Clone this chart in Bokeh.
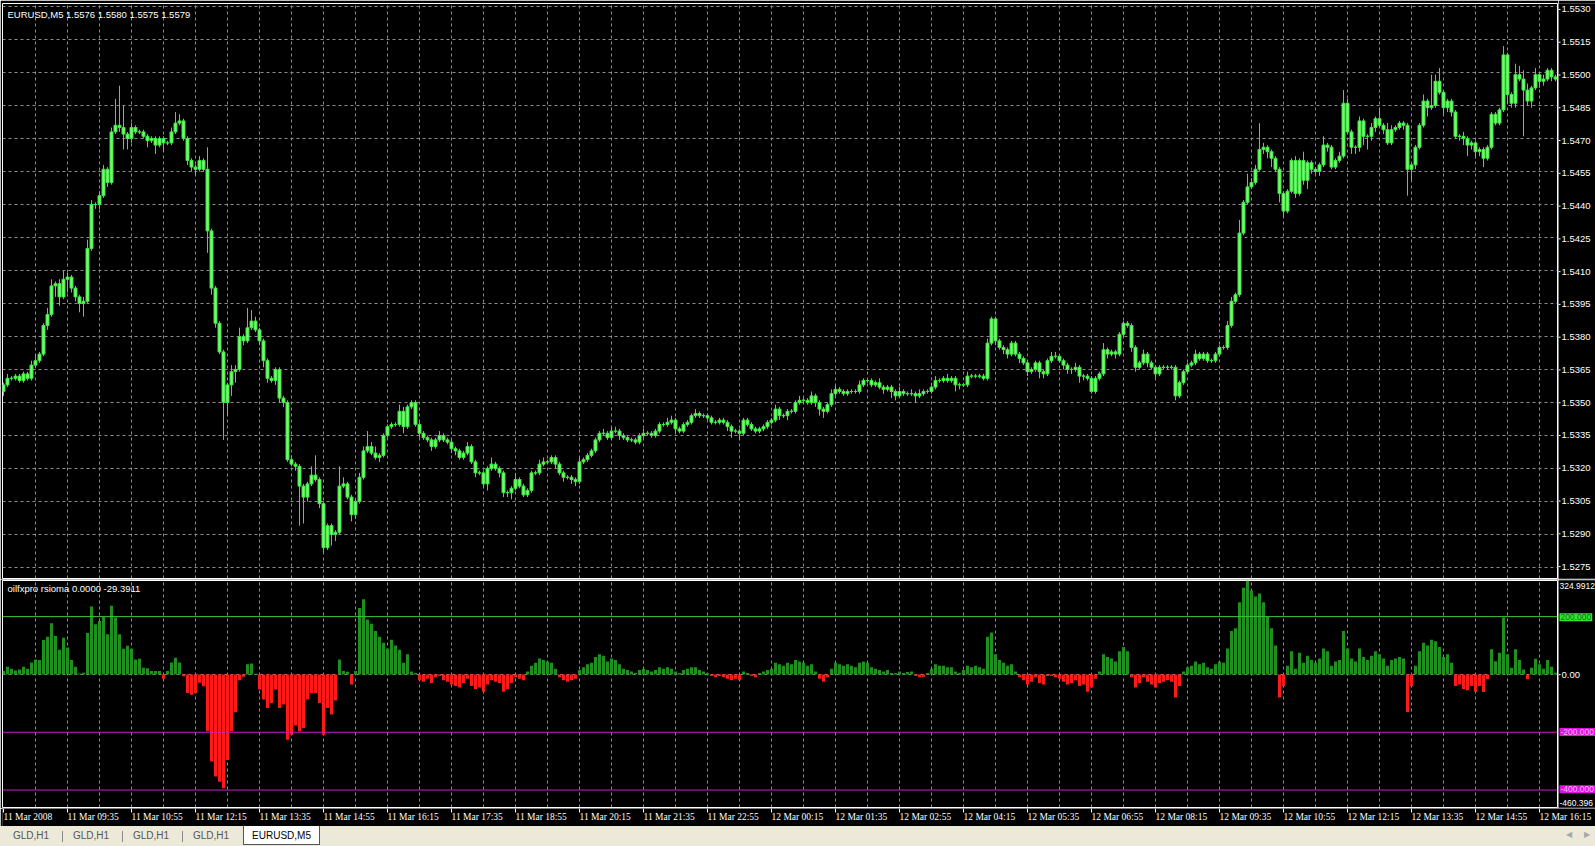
from bokeh.plotting import figure
from bokeh.models import (Range1d, FixedTicker, Span, Label, ColumnDataSource, Div)
from bokeh.layouts import column, row
from bokeh.embed import file_html
from bokeh.resources import INLINE
from bokeh.core.properties import value

# ---------------- data ----------------
symbol_title = "EURUSD,M5  1.5576 1.5580 1.5575 1.5579"
indicator_title = "oilfxpro rsioma 0.0000 -29.3911"
first_open = 1.5355

close = [
    1.5358, 1.5361, 1.5361, 1.5362, 1.5360, 1.5363, 1.5361, 1.5367, 1.5369, 1.5372,
    1.5385, 1.5390, 1.5403, 1.5404, 1.5398, 1.5406, 1.5407, 1.5402, 1.5398, 1.5395,
    1.5396, 1.5420, 1.5440, 1.5440, 1.5444, 1.5456, 1.5450, 1.5473, 1.5476, 1.5475,
    1.5472, 1.5470, 1.5475, 1.5473, 1.5473, 1.5471, 1.5469, 1.5470, 1.5467, 1.5470,
    1.5468, 1.5468, 1.5473, 1.5477, 1.5478, 1.5470, 1.5460, 1.5457, 1.5456, 1.5460,
    1.5456, 1.5428, 1.5402, 1.5386, 1.5373, 1.5350, 1.5358, 1.5364, 1.5365, 1.5380,
    1.5378, 1.5384, 1.5387, 1.5383, 1.5378, 1.5369, 1.5361, 1.5360, 1.5365, 1.5352,
    1.5350, 1.5324, 1.5322, 1.5321, 1.5312, 1.5307, 1.5313, 1.5317, 1.5315, 1.5304,
    1.5284, 1.5294, 1.5290, 1.5291, 1.5312, 1.5313, 1.5307, 1.5299, 1.5305, 1.5316,
    1.5328, 1.5330, 1.5327, 1.5325, 1.5326, 1.5335, 1.5339, 1.5340, 1.5340, 1.5346,
    1.5339, 1.5348, 1.5350, 1.5340, 1.5336, 1.5334, 1.5333, 1.5330, 1.5333, 1.5335,
    1.5333, 1.5332, 1.5329, 1.5328, 1.5325, 1.5327, 1.5330, 1.5323, 1.5318, 1.5318,
    1.5313, 1.5320, 1.5322, 1.5320, 1.5318, 1.5309, 1.5309, 1.5311, 1.5315, 1.5312,
    1.5308, 1.5310, 1.5318, 1.5318, 1.5322, 1.5323, 1.5323, 1.5325, 1.5322, 1.5318,
    1.5316, 1.5316, 1.5315, 1.5314, 1.5323, 1.5324, 1.5326, 1.5328, 1.5333, 1.5336,
    1.5336, 1.5334, 1.5337, 1.5337, 1.5335, 1.5334, 1.5333, 1.5333, 1.5332, 1.5335,
    1.5336, 1.5336, 1.5335, 1.5337, 1.5340, 1.5340, 1.5341, 1.5342, 1.5338, 1.5337,
    1.5340, 1.5341, 1.5344, 1.5345, 1.5344, 1.5344, 1.5343, 1.5341, 1.5341, 1.5342,
    1.5341, 1.5339, 1.5337, 1.5337, 1.5336, 1.5342, 1.5340, 1.5338, 1.5337, 1.5338,
    1.5339, 1.5341, 1.5342, 1.5347, 1.5344, 1.5344, 1.5346, 1.5346, 1.5350, 1.5351,
    1.5351, 1.5350, 1.5353, 1.5350, 1.5347, 1.5346, 1.5349, 1.5354, 1.5356, 1.5355,
    1.5354, 1.5355, 1.5355, 1.5355, 1.5358, 1.5360, 1.5360, 1.5358, 1.5359, 1.5357,
    1.5356, 1.5357, 1.5355, 1.5353, 1.5355, 1.5354, 1.5354, 1.5354, 1.5353, 1.5354,
    1.5355, 1.5355, 1.5357, 1.5360, 1.5360, 1.5361, 1.5360, 1.5361, 1.5358, 1.5358,
    1.5358, 1.5362, 1.5362, 1.5362, 1.5362, 1.5361, 1.5377, 1.5388, 1.5378, 1.5375,
    1.5374, 1.5372, 1.5377, 1.5372, 1.5370, 1.5368, 1.5364, 1.5365, 1.5368, 1.5364,
    1.5363, 1.5369, 1.5371, 1.5371, 1.5369, 1.5367, 1.5365, 1.5365, 1.5366, 1.5362,
    1.5362, 1.5361, 1.5355, 1.5361, 1.5363, 1.5374, 1.5372, 1.5373, 1.5372, 1.5381,
    1.5386, 1.5385, 1.5375, 1.5366, 1.5368, 1.5372, 1.5368, 1.5366, 1.5363, 1.5366,
    1.5366, 1.5366, 1.5366, 1.5353, 1.5359, 1.5364, 1.5367, 1.5368, 1.5372, 1.5370,
    1.5372, 1.5369, 1.5369, 1.5372, 1.5375, 1.5375, 1.5385, 1.5396, 1.5399, 1.5427,
    1.5441, 1.5448, 1.5450, 1.5456, 1.5465, 1.5466, 1.5464, 1.5461, 1.5456, 1.5445,
    1.5437, 1.5446, 1.5460, 1.5445, 1.5460, 1.5451, 1.5459, 1.5456, 1.5455, 1.5458,
    1.5467, 1.5466, 1.5457, 1.5460, 1.5462, 1.5486, 1.5473, 1.5466, 1.5466, 1.5478,
    1.5471, 1.5471, 1.5475, 1.5479, 1.5476, 1.5474, 1.5468, 1.5474, 1.5475, 1.5477,
    1.5476, 1.5456, 1.5458, 1.5466, 1.5476, 1.5487, 1.5484, 1.5485, 1.5496, 1.5491,
    1.5484, 1.5487, 1.5482, 1.5471, 1.5471, 1.5470, 1.5467, 1.5468, 1.5464, 1.5465,
    1.5461, 1.5466, 1.5481, 1.5477, 1.5483, 1.5508, 1.5490, 1.5486, 1.5499, 1.5497,
    1.5492, 1.5487, 1.5493, 1.5499, 1.5496, 1.5497, 1.5501, 1.5498, 1.5497,
]

# upper / lower shadows of each candle, in pips
wick_up = [
    1, 2, 1, 1, 1, 1, 1, 2, 3, 1,   1, 3, 3, 1, 2, 4, 2, 1, 1, 1,
    2, 4, 2, 1, 2, 2, 1, 2, 12, 18,  10, 1, 2, 1, 1, 1, 1, 1, 1, 1,
    1, 1, 2, 5, 3, 1, 1, 1, 1, 2,   1, 10, 1, 1, 1, 1, 1, 3, 2, 4,
    1, 9, 5, 2, 1, 1, 1, 1, 1, 1,   1, 1, 2, 1, 1, 1, 1, 4, 9, 1,
    1, 1, 1, 1, 9, 3, 1, 1, 1, 2,   2, 7, 2, 3, 1, 1, 1, 1, 1, 3,
    2, 1, 1, 1, 1, 1, 1, 1, 1, 2,   1, 1, 1, 1, 1, 1, 2, 1, 1, 1,
    1, 1, 3, 1, 1, 1, 1, 1, 3, 1,   1, 1, 1, 1, 2, 2, 1, 1, 1, 1,
    1, 1, 1, 1, 2, 1, 1, 1, 1, 1,   2, 1, 2, 2, 1, 1, 1, 1, 1, 1,
    2, 1, 1, 1, 1, 1, 2, 2, 1, 1,   1, 1, 1, 2, 1, 1, 1, 1, 1, 1,
    1, 1, 1, 1, 1, 1, 1, 1, 1, 1,   1, 1, 1, 2, 1, 1, 1, 1, 1, 2,
    1, 1, 2, 1, 1, 1, 1, 2, 2, 1,   1, 1, 1, 1, 2, 1, 1, 1, 1, 2,
    1, 1, 1, 1, 2, 1, 1, 2, 1, 2,   1, 1, 2, 2, 1, 1, 2, 1, 1, 1,
    1, 2, 1, 1, 1, 1, 2, 1, 1, 1,   1, 1, 1, 1, 1, 1, 1, 1, 1, 1,
    1, 1, 2, 2, 1, 1, 1, 1, 2, 1,   1, 1, 1, 1, 1, 3, 1, 1, 1, 1,
    1, 1, 1, 1, 1, 2, 1, 1, 1, 1,   1, 1, 1, 1, 1, 1, 1, 1, 2, 1,
    1, 1, 1, 1, 1, 1, 2, 2, 1, 6,   1, 6, 2, 2, 12, 2, 1, 1, 1, 1,
    1, 1, 1, 2, 1, 4, 1, 1, 1, 1,   4, 1, 1, 1, 2, 6, 2, 1, 1, 2,
    1, 1, 2, 1, 5, 1, 3, 2, 1, 1,   1, 1, 1, 1, 1, 3, 1, 14, 3, 6,
    1, 1, 1, 1, 1, 2, 1, 1, 1, 1,   1, 1, 1, 1, 1, 4, 1, 1, 5, 4,
    4, 3, 1, 3, 1, 2, 1, 1, 1,
]
wick_dn = [
    2, 1, 1, 1, 1, 1, 1, 1, 1, 1,   1, 2, 1, 5, 4, 1, 6, 2, 2, 4,
    6, 1, 1, 2, 2, 1, 2, 1, 1, 2,   7, 5, 2, 1, 1, 1, 3, 1, 4, 1,
    4, 1, 1, 1, 1, 1, 2, 2, 3, 1,   1, 10, 3, 2, 1, 17, 6, 5, 5, 1,
    2, 1, 1, 1, 2, 3, 2, 1, 2, 2,   2, 1, 1, 2, 18, 12, 2, 1, 1, 2,
    2, 1, 5, 3, 1, 1, 1, 3, 2, 1,   1, 1, 1, 1, 2, 1, 1, 1, 1, 1,
    3, 1, 1, 1, 2, 1, 1, 2, 1, 1,   1, 1, 2, 2, 1, 1, 1, 1, 2, 1,
    2, 3, 1, 1, 2, 2, 2, 3, 1, 1,   1, 1, 1, 1, 1, 1, 1, 1, 2, 1,
    2, 1, 2, 2, 1, 1, 1, 1, 1, 1,   1, 1, 1, 1, 2, 1, 1, 1, 1, 1,
    1, 1, 1, 1, 1, 1, 1, 1, 2, 1,   1, 1, 1, 1, 1, 1, 1, 1, 1, 1,
    1, 2, 3, 1, 3, 1, 1, 1, 1, 1,   1, 1, 1, 1, 2, 1, 2, 1, 1, 1,
    1, 1, 1, 2, 3, 3, 1, 1, 1, 1,   1, 1, 1, 1, 1, 1, 1, 1, 1, 1,
    2, 1, 3, 2, 1, 1, 1, 1, 3, 1,   1, 1, 1, 1, 1, 1, 1, 1, 3, 2,
    1, 1, 1, 1, 1, 1, 1, 1, 2, 1,   2, 2, 1, 1, 2, 1, 2, 1, 1, 3,
    2, 1, 1, 1, 1, 2, 2, 2, 1, 3,   2, 1, 1, 1, 1, 1, 2, 1, 2, 1,
    1, 1, 2, 2, 1, 1, 2, 1, 2, 1,   1, 1, 1, 2, 1, 1, 1, 1, 1, 1,
    1, 1, 1, 1, 1, 1, 1, 1, 1, 1,   1, 1, 1, 1, 1, 2, 3, 4, 1, 4,
    3, 1, 1, 2, 1, 2, 4, 2, 1, 2,   1, 2, 1, 1, 1, 1, 1, 3, 3, 2,
    4, 6, 2, 2, 1, 2, 1, 1, 1, 1,   2, 12, 5, 2, 1, 1, 4, 1, 1, 1,
    3, 2, 2, 1, 2, 3, 5, 2, 3, 2,   4, 1, 1, 1, 1, 1, 4, 2, 2, 1,
    21, 2, 3, 1, 3, 2, 1, 2, 1,
]

rsioma = [
    12, 27, 20, 14, 17, 27, 20, 41, 52, 50,
    119, 130, 177, 133, 85, 127, 93, 50, 27, 3,
    6, 143, 235, 174, 185, 199, 139, 238, 197, 139,
    89, 99, 89, 52, 54, 23, 21, 12, 12, 12,
    -15, 12, 41, 58, 41, -6, -64, -70, -64, -29,
    -41, -197, -301, -353, -371, -394, -296, -197, -131, -20,
    -8, 35, 38, 2, -52, -87, -116, -99, -52, -116,
    -104, -226, -209, -177, -197, -185, -87, -64, -64, -99,
    -209, -116, -139, -90, 52, 12, 9, -35, 12, 230,
    260, 190, 175, 150, 130, 110, 90, 120, 100, 85,
    40, 70, 10, 5, -20, -25, -15, -30, -10, -5,
    -20, -25, -35, -40, -45, -30, -15, -40, -50, -45,
    -60, -35, -20, -25, -30, -60, -50, -30, -10, -15,
    -20, 10, 30, 40, 55, 50, 45, 40, 20, -10,
    -20, -25, -20, -15, 15, 25, 35, 40, 60, 70,
    65, 45, 55, 50, 35, 20, 15, 10, 5, 15,
    20, 15, 10, 15, 25, 20, 25, 20, 10, 5,
    15, 20, 25, 25, 15, 10, 5, -5, -10, -5,
    -10, -15, -20, -15, -20, 10, 5, -5, -10, 5,
    10, 15, 20, 40, 35, 30, 40, 35, 50, 45,
    40, 30, 35, 10, -15, -25, -10, 20, 40, 35,
    30, 35, 30, 25, 40, 45, 40, 25, 20, 15,
    10, 15, 5, 5, 10, 5, 8, 10, -5, -10,
    -8, 5, 20, 35, 30, 30, 25, 25, 10, 5,
    15, 30, 25, 30, 25, 20, 130, 145, 70, 50,
    40, 30, 35, 10, -10, -20, -35, -25, -10, -30,
    -35, -5, -5, -10, -15, -25, -35, -30, -20, -40,
    -35, -60, -45, -15, 10, 70, 60, 55, 45, 80,
    95, 80, -10, -45, -30, -10, -25, -35, -45, -30,
    -25, -20, -25, -80, -40, 10, 25, 30, 45, 35,
    40, 25, 20, 35, 45, 40, 90, 150, 160, 250,
    300, 325, 290, 270, 280, 250, 200, 160, 100, -80,
    -40, 30, 80, 20, 75, 40, 65, 50, 40, 55,
    90, 80, 30, 45, 50, 150, 90, 55, 45, 90,
    60, 50, 65, 80, 70, 55, 30, 50, 55, 60,
    55, -130, -40, 30, 80, 110, 100, 120, 115, 95,
    60, 70, 40, -40, -35, -50, -55, -40, -60, -40,
    -61, -17, 87, 46, 75, 197, 70, 23, 87, 50,
    17, -17, 23, 54, 35, 20, 50, 27, 6,
]

time_labels = [
    "11 Mar 2008", "11 Mar 09:35", "11 Mar 10:55", "11 Mar 12:15", "11 Mar 13:35",
    "11 Mar 14:55", "11 Mar 16:15", "11 Mar 17:35", "11 Mar 18:55", "11 Mar 20:15",
    "11 Mar 21:35", "11 Mar 22:55", "12 Mar 00:15", "12 Mar 01:35", "12 Mar 02:55",
    "12 Mar 04:15", "12 Mar 05:35", "12 Mar 06:55", "12 Mar 08:15", "12 Mar 09:35",
    "12 Mar 10:55", "12 Mar 12:15", "12 Mar 13:35", "12 Mar 14:55", "12 Mar 16:15",
]
bars_per_label = 16
bars_per_grid = 8

price_ticks = [1.5275, 1.5290, 1.5305, 1.5320, 1.5335, 1.5350, 1.5365, 1.5380, 1.5395,
               1.5410, 1.5425, 1.5440, 1.5455, 1.5470, 1.5485, 1.5500, 1.5515, 1.5530]
price_min, price_max = 1.5270, 1.553136
ind_max = 324.9912
ind_min = -460.396
level_up = 200
levels_down = [-200, -400]
tab_names = ["GLD,H1", "GLD,H1", "GLD,H1", "GLD,H1", "EURUSD,M5"]

n = len(close)
assert len(wick_up) == n and len(wick_dn) == n and len(rsioma) == n, (len(wick_up), len(wick_dn), len(rsioma), n)

PIP = 0.0001
idx = list(range(n))
opens = [first_open] + close[:-1]
body_top = [max(o, c) for o, c in zip(opens, close)]
body_bot = [min(o, c) for o, c in zip(opens, close)]
highs = [t + u * PIP for t, u in zip(body_top, wick_up)]
lows = [b - d * PIP for b, d in zip(body_bot, wick_dn)]

# ---------------- geometry / styles ----------------
W = 1595
LAB_W = 37                 # right-hand price scale strip
MAIN_W = W - LAB_W         # chart canvases
PX_PER_BAR = 4
A_H, A_TOP, A_BOT = 579, 3, 1
B_H, B_TOP, B_BOT = 229, 1, 1
C_H = 18
BG = "black"
GRID = "#8c8c8c"
CANDLE_LINE = "#3fe23f"
CANDLE_FILL = "#74fa74"
FONT = "Liberation Sans"

x_start = -0.25
xr = Range1d(x_start, n - 0.5)


def base_fig(w, h, xrange, yrange, left, right, top, bottom, outline=None):
    f = figure(width=w, height=h, x_range=xrange, y_range=yrange, title=None,
               output_backend="svg", toolbar_location=None,
               x_axis_location=None, y_axis_location=None,
               min_border_left=left, min_border_right=right,
               min_border_top=top, min_border_bottom=bottom,
               background_fill_color=BG, border_fill_color=BG,
               outline_line_color=outline, outline_line_width=1)
    f.grid.visible = False
    return f


def style_grid(g):
    g.visible = True
    g.grid_line_color = GRID
    g.grid_line_dash = "3 3"
    g.grid_line_width = 1


# ---------------- price panel ----------------
pA = base_fig(MAIN_W, A_H, xr, Range1d(price_min, price_max), 2, 1, A_TOP, A_BOT, outline="white")
pA.xgrid.ticker = FixedTicker(ticks=list(range(bars_per_grid, n, bars_per_grid)))
pA.ygrid.ticker = FixedTicker(ticks=price_ticks)
style_grid(pA.xgrid[0])
style_grid(pA.ygrid[0])

src = ColumnDataSource(dict(i=idx, h=highs, l=lows, t=body_top, b=body_bot))
pA.segment(x0="i", y0="h", x1="i", y1="l", source=src, line_color=CANDLE_LINE, line_width=1)
pA.vbar(x="i", top="t", bottom="b", width=0.75, source=src,
        fill_color=CANDLE_FILL, line_color=CANDLE_LINE, line_width=1)

pA.add_layout(Label(x=x_start, y=price_max, x_offset=5, y_offset=-5, text=symbol_title,
                    text_baseline="top", text_align="left", text_color="white",
                    text_font=FONT, text_font_size="9.5px"))

# price scale strip (same vertical mapping as the price frame)
kA = (price_max - price_min) / (A_H - A_TOP - A_BOT)
pAl = base_fig(LAB_W, A_H, Range1d(0, LAB_W),
               Range1d(price_min - A_BOT * kA, price_max + A_TOP * kA), 0, 0, 0, 0)
psrc = ColumnDataSource(dict(y=price_ticks, t=[f"{v:.4f}" for v in price_ticks]))
pAl.segment(x0=0, x1=2, y0="y", y1="y", source=psrc, line_color="white", line_width=1)
pAl.text(x=3, y="y", text="t", source=psrc, text_align="left", text_baseline="middle",
         text_color="white", text_font=value(FONT), text_font_size=value("9.5px"))

# ---------------- indicator panel ----------------
pB = base_fig(MAIN_W, B_H, xr, Range1d(ind_min, ind_max), 2, 1, B_TOP, B_BOT, outline="white")
pB.xgrid.ticker = FixedTicker(ticks=list(range(bars_per_grid, n, bars_per_grid)))
pB.ygrid.ticker = FixedTicker(ticks=[0])
style_grid(pB.xgrid[0])
style_grid(pB.ygrid[0])

pB.add_layout(Span(location=level_up, dimension="width", line_color="#3cc83c", line_width=1))
for lv in levels_down:
    pB.add_layout(Span(location=lv, dimension="width", line_color="#c81ec8", line_width=1))

hsrc = ColumnDataSource(dict(
    i=idx, v=rsioma,
    col=["#1f8f1f" if v >= 0 else "#ff1a1a" for v in rsioma]))
pB.vbar(x="i", top="v", bottom=0, width=0.75, source=hsrc, fill_color="col", line_color=None)

pB.add_layout(Label(x=x_start, y=ind_max, x_offset=5, y_offset=-2, text=indicator_title,
                    text_baseline="top", text_align="left", text_color="white",
                    text_font=FONT, text_font_size="9.5px"))

# indicator scale strip
kB = (ind_max - ind_min) / (B_H - B_TOP - B_BOT)
pBl = base_fig(LAB_W, B_H, Range1d(0, LAB_W),
               Range1d(ind_min - B_BOT * kB, ind_max + B_TOP * kB), 0, 0, 0, 0)
pBl.segment(x0=0, x1=2, y0=0, y1=0, line_color="white", line_width=1)
pBl.add_layout(Label(x=3, y=0, text="0.00", text_baseline="middle", text_color="white",
                     text_font=FONT, text_font_size="9.5px"))
pBl.add_layout(Label(x=1, y=ind_max, y_offset=-2, text=f"{ind_max:.4f}", text_baseline="top",
                     text_color="white", text_font=FONT, text_font_size="8.5px"))
pBl.add_layout(Label(x=1, y=ind_min, y_offset=1, text=f"{ind_min:.3f}", text_baseline="bottom",
                     text_color="white", text_font=FONT, text_font_size="8.5px"))
pBl.add_layout(Label(x=1, y=level_up, text=f"{level_up:.3f}", text_baseline="middle",
                     text_color="#1a6a1a", text_font=FONT, text_font_size="8.5px",
                     background_fill_color="#2ee82e", padding=1))
for lv in levels_down:
    pBl.add_layout(Label(x=1, y=lv, text=f"{lv:.3f}", text_baseline="middle",
                         text_color="#f2b8f2", text_font=FONT, text_font_size="8.5px",
                         background_fill_color="#e014e0", padding=1))

# ---------------- time scale ----------------
pC = base_fig(W, C_H, Range1d(x_start, x_start + (W - 2) / PX_PER_BAR), Range1d(0, C_H), 2, 0, 0, 0)
tick_pos = list(range(0, n, bars_per_label))[:len(time_labels)]
tsrc = ColumnDataSource(dict(x=tick_pos, t=time_labels))
pC.segment(x0="x", x1="x", y0=C_H, y1=C_H - 4, source=tsrc, line_color="white", line_width=1)
pC.text(x="x", y=C_H - 3, text="t", source=tsrc, text_align="left", text_baseline="top",
        text_color="white", text_font=value("Liberation Sans Narrow"),
        text_font_size=value("9.5px"))

# ---------------- tab bar ----------------
parts = []
for k, name in enumerate(tab_names):
    if k == len(tab_names) - 1:
        parts.append(
            f'<div style="position:absolute;left:243px;top:0px;width:77px;height:19px;'
            f'background:#ffffff;border-left:1px solid #555;border-right:1px solid #555;'
            f'border-bottom:1px solid #555;color:#000;text-align:center;line-height:20px;">{name}</div>')
    else:
        left = 1 + 60 * k
        parts.append(
            f'<div style="position:absolute;left:{left}px;top:0px;width:60px;height:20px;'
            f'line-height:20px;text-align:center;color:#555;">{name}</div>')
        if k < len(tab_names) - 2:
            parts.append(
                f'<div style="position:absolute;left:{left + 61}px;top:5px;width:1px;height:11px;'
                f'background:#8a8a8a;"></div>')
parts.append('<div style="position:absolute;left:1566px;top:3px;color:#a8a8a8;font-size:8px;">&#9664;</div>')
parts.append('<div style="position:absolute;left:1584px;top:3px;color:#a8a8a8;font-size:8px;">&#9654;</div>')
html = ('<div style="position:relative;width:1595px;height:20px;background:#ece9d8;'
        'font-family:\'Liberation Sans\';font-size:10px;overflow:hidden;">' + "".join(parts) + '</div>')
tabs = Div(text=html, width=W, height=20, margin=0)

layout = column(row(pA, pAl, spacing=0), row(pB, pBl, spacing=0), pC, tabs, spacing=0)

open("out.html", "w").write(file_html(layout, INLINE))
